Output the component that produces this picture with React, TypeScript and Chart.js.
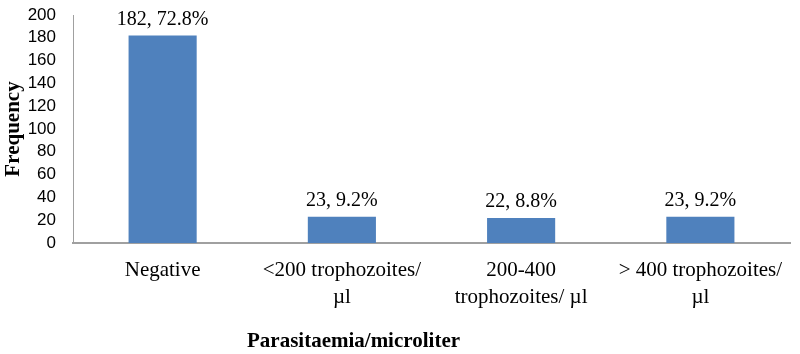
import React, { useEffect, useRef } from "react";
import { Chart, registerables } from "chart.js";

Chart.register(...registerables);

const categories: (string | string[])[] = [
  "Negative",
  ["<200 trophozoites/", "µl"],
  ["200-400", "trophozoites/ µl"],
  ["> 400 trophozoites/", "µl"],
];
const frequencies = [182, 23, 22, 23];
const percents = ["72.8%", "9.2%", "8.8%", "9.2%"];
const yTitle = "Frequency";
const xTitle = "Parasitaemia/microliter";

const dataLabelPlugin = {
  id: "dataLabels",
  afterDatasetsDraw(chart: any) {
    const ctx = chart.ctx;
    const meta = chart.getDatasetMeta(0);
    ctx.save();
    ctx.font = "20px 'Liberation Serif', serif";
    ctx.fillStyle = "#000";
    ctx.textAlign = "center";
    ctx.textBaseline = "alphabetic";
    meta.data.forEach((bar: any, i: number) => {
      ctx.fillText(`${frequencies[i]}, ${percents[i]}`, bar.x, bar.y - 11);
    });
    ctx.restore();
  },
};

const xTitlePlugin = {
  id: "xTitle",
  afterDraw(chart: any) {
    const ctx = chart.ctx;
    ctx.save();
    ctx.font = "bold 21px 'Liberation Serif', serif";
    ctx.fillStyle = "#000";
    ctx.textAlign = "left";
    ctx.textBaseline = "middle";
    ctx.fillText(xTitle, 247, 342);
    ctx.restore();
  },
};

export default function App() {
  const ref = useRef<HTMLCanvasElement>(null);
  useEffect(() => {
    document.body.style.margin = "0";
    const chart = new Chart(ref.current!, {
      type: "bar",
      data: {
        labels: categories,
        datasets: [
          {
            data: frequencies,
            backgroundColor: "#4F81BD",
            borderWidth: 0,
            barPercentage: 0.38,
            categoryPercentage: 1,
          },
        ],
      },
      options: {
        animation: false,
        responsive: false,
        maintainAspectRatio: false,
        layout: { padding: { top: 15, right: 10, left: 0, bottom: 0 } },
        plugins: { legend: { display: false }, tooltip: { enabled: false } },
        scales: {
          x: {
            grid: { display: false, drawTicks: false },
            border: { display: true, color: "#A0A0A0", width: 2 },
            ticks: {
              color: "#000",
              padding: 14,
              maxRotation: 0,
              autoSkip: false,
              font: { family: "'Liberation Serif', serif", size: 21, lineHeight: 1.28 },
            },
            afterFit(scale: any) {
              scale.height = 111;
              scale.paddingLeft = 0;
              scale.paddingRight = 0;
            },
          },
          y: {
            min: 0,
            max: 200,
            grid: { display: false, drawTicks: false },
            border: { display: true, color: "#A0A0A0", width: 1 },
            ticks: {
              stepSize: 20,
              autoSkip: false,
              color: "#000",
              padding: 17,
              font: { family: "'Liberation Sans', sans-serif", size: 17 },
            },
            title: {
              display: true,
              text: yTitle,
              color: "#000",
              padding: { top: 1, bottom: 0 },
              font: { family: "'Liberation Serif', serif", size: 21, weight: "bold" },
            },
            afterFit(scale: any) {
              scale.width = 73;
              scale.paddingTop = 0;
              scale.paddingBottom = 0;
            },
          },
        },
      },
      plugins: [dataLabelPlugin, xTitlePlugin],
    });
    return () => chart.destroy();
  }, []);
  return (
    <div style={{ width: 800, height: 354 }}>
      <canvas ref={ref} width={800} height={354} style={{ width: 800, height: 354, display: "block" }} />
    </div>
  );
}
